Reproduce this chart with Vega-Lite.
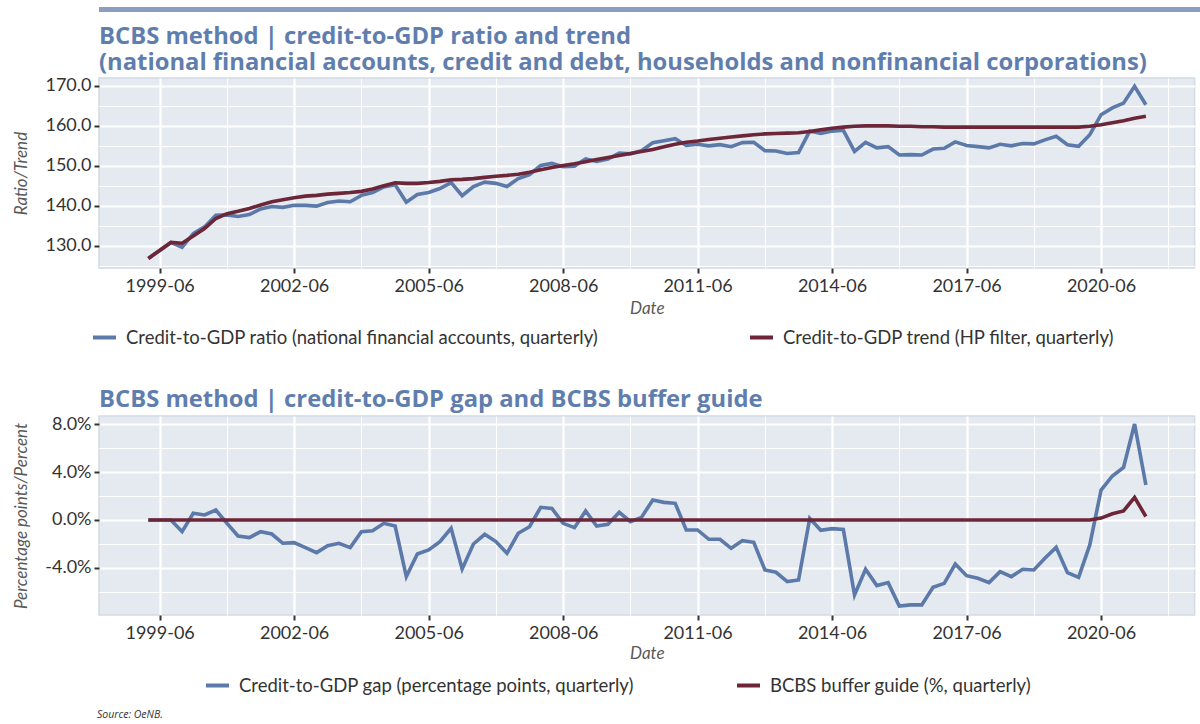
{
  "$schema": "https://vega.github.io/schema/vega-lite/v6.json",
  "background": "white",
  "padding": {"left": 11, "top": 7, "right": 0, "bottom": 0},
  "datasets": {
    "cg": [
      {"date":"1999-03-01","ratio":126.8,"trend":126.8,"gap":0,"guide":0},
      {"date":"1999-06-01","ratio":128.8,"trend":128.8,"gap":0,"guide":0},
      {"date":"1999-09-01","ratio":130.8,"trend":130.8,"gap":0,"guide":0},
      {"date":"1999-12-01","ratio":129.6,"trend":130.6,"gap":-0.97,"guide":0},
      {"date":"2000-03-01","ratio":133.0,"trend":132.4,"gap":0.56,"guide":0},
      {"date":"2000-06-01","ratio":134.7,"trend":134.3,"gap":0.42,"guide":0},
      {"date":"2000-09-01","ratio":137.6,"trend":136.8,"gap":0.83,"guide":0},
      {"date":"2000-12-01","ratio":137.7,"trend":138.0,"gap":-0.28,"guide":0},
      {"date":"2001-03-01","ratio":137.3,"trend":138.6,"gap":-1.33,"guide":0},
      {"date":"2001-06-01","ratio":137.8,"trend":139.3,"gap":-1.47,"guide":0},
      {"date":"2001-09-01","ratio":139.2,"trend":140.2,"gap":-0.97,"guide":0},
      {"date":"2001-12-01","ratio":139.8,"trend":141.0,"gap":-1.17,"guide":0},
      {"date":"2002-03-01","ratio":139.6,"trend":141.5,"gap":-1.94,"guide":0},
      {"date":"2002-06-01","ratio":140.1,"trend":142.0,"gap":-1.89,"guide":0},
      {"date":"2002-09-01","ratio":140.1,"trend":142.4,"gap":-2.3,"guide":0},
      {"date":"2002-12-01","ratio":139.9,"trend":142.6,"gap":-2.72,"guide":0},
      {"date":"2003-03-01","ratio":140.8,"trend":142.9,"gap":-2.14,"guide":0},
      {"date":"2003-06-01","ratio":141.2,"trend":143.1,"gap":-1.94,"guide":0},
      {"date":"2003-09-01","ratio":141.0,"trend":143.3,"gap":-2.3,"guide":0},
      {"date":"2003-12-01","ratio":142.6,"trend":143.6,"gap":-0.97,"guide":0},
      {"date":"2004-03-01","ratio":143.3,"trend":144.2,"gap":-0.89,"guide":0},
      {"date":"2004-06-01","ratio":144.7,"trend":145.0,"gap":-0.28,"guide":0},
      {"date":"2004-09-01","ratio":145.25,"trend":145.75,"gap":-0.5,"guide":0},
      {"date":"2004-12-01","ratio":140.9,"trend":145.6,"gap":-4.72,"guide":0},
      {"date":"2005-03-01","ratio":142.8,"trend":145.6,"gap":-2.83,"guide":0},
      {"date":"2005-06-01","ratio":143.3,"trend":145.8,"gap":-2.5,"guide":0},
      {"date":"2005-09-01","ratio":144.3,"trend":146.1,"gap":-1.8,"guide":0},
      {"date":"2005-12-01","ratio":145.8,"trend":146.5,"gap":-0.69,"guide":0},
      {"date":"2006-03-01","ratio":142.5,"trend":146.6,"gap":-4.08,"guide":0},
      {"date":"2006-06-01","ratio":144.8,"trend":146.8,"gap":-2.0,"guide":0},
      {"date":"2006-09-01","ratio":145.9,"trend":147.1,"gap":-1.19,"guide":0},
      {"date":"2006-12-01","ratio":145.6,"trend":147.4,"gap":-1.8,"guide":0},
      {"date":"2007-03-01","ratio":144.8,"trend":147.6,"gap":-2.78,"guide":0},
      {"date":"2007-06-01","ratio":146.8,"trend":147.9,"gap":-1.11,"guide":0},
      {"date":"2007-09-01","ratio":147.8,"trend":148.4,"gap":-0.56,"guide":0},
      {"date":"2007-12-01","ratio":150.1,"trend":149.0,"gap":1.06,"guide":0},
      {"date":"2008-03-01","ratio":150.6,"trend":149.6,"gap":0.97,"guide":0},
      {"date":"2008-06-01","ratio":149.8,"trend":150.1,"gap":-0.28,"guide":0},
      {"date":"2008-09-01","ratio":149.9,"trend":150.5,"gap":-0.64,"guide":0},
      {"date":"2008-12-01","ratio":151.75,"trend":151.0,"gap":0.75,"guide":0},
      {"date":"2009-03-01","ratio":151.1,"trend":151.6,"gap":-0.5,"guide":0},
      {"date":"2009-06-01","ratio":151.7,"trend":152.1,"gap":-0.36,"guide":0},
      {"date":"2009-09-01","ratio":153.2,"trend":152.6,"gap":0.64,"guide":0},
      {"date":"2009-12-01","ratio":153.0,"trend":153.1,"gap":-0.14,"guide":0},
      {"date":"2010-03-01","ratio":153.8,"trend":153.6,"gap":0.22,"guide":0},
      {"date":"2010-06-01","ratio":155.8,"trend":154.1,"gap":1.67,"guide":0},
      {"date":"2010-09-01","ratio":156.3,"trend":154.8,"gap":1.47,"guide":0},
      {"date":"2010-12-01","ratio":156.8,"trend":155.4,"gap":1.39,"guide":0},
      {"date":"2011-03-01","ratio":155.1,"trend":155.9,"gap":-0.83,"guide":0},
      {"date":"2011-06-01","ratio":155.4,"trend":156.2,"gap":-0.83,"guide":0},
      {"date":"2011-09-01","ratio":155.0,"trend":156.6,"gap":-1.61,"guide":0},
      {"date":"2011-12-01","ratio":155.3,"trend":156.9,"gap":-1.61,"guide":0},
      {"date":"2012-03-01","ratio":154.8,"trend":157.2,"gap":-2.36,"guide":0},
      {"date":"2012-06-01","ratio":155.8,"trend":157.5,"gap":-1.72,"guide":0},
      {"date":"2012-09-01","ratio":155.9,"trend":157.8,"gap":-1.86,"guide":0},
      {"date":"2012-12-01","ratio":153.8,"trend":158.0,"gap":-4.17,"guide":0},
      {"date":"2013-03-01","ratio":153.7,"trend":158.1,"gap":-4.36,"guide":0},
      {"date":"2013-06-01","ratio":153.1,"trend":158.2,"gap":-5.14,"guide":0},
      {"date":"2013-09-01","ratio":153.3,"trend":158.3,"gap":-5.0,"guide":0},
      {"date":"2013-12-01","ratio":158.7,"trend":158.6,"gap":0.14,"guide":0},
      {"date":"2014-03-01","ratio":158.1,"trend":159.0,"gap":-0.86,"guide":0},
      {"date":"2014-06-01","ratio":158.7,"trend":159.4,"gap":-0.72,"guide":0},
      {"date":"2014-09-01","ratio":158.9,"trend":159.7,"gap":-0.78,"guide":0},
      {"date":"2014-12-01","ratio":153.6,"trend":159.9,"gap":-6.25,"guide":0},
      {"date":"2015-03-01","ratio":155.9,"trend":160.0,"gap":-4.11,"guide":0},
      {"date":"2015-06-01","ratio":154.5,"trend":160.0,"gap":-5.47,"guide":0},
      {"date":"2015-09-01","ratio":154.8,"trend":160.0,"gap":-5.22,"guide":0},
      {"date":"2015-12-01","ratio":152.7,"trend":159.9,"gap":-7.17,"guide":0},
      {"date":"2016-03-01","ratio":152.8,"trend":159.9,"gap":-7.08,"guide":0},
      {"date":"2016-06-01","ratio":152.7,"trend":159.8,"gap":-7.08,"guide":0},
      {"date":"2016-09-01","ratio":154.2,"trend":159.8,"gap":-5.61,"guide":0},
      {"date":"2016-12-01","ratio":154.4,"trend":159.7,"gap":-5.28,"guide":0},
      {"date":"2017-03-01","ratio":156.0,"trend":159.7,"gap":-3.67,"guide":0},
      {"date":"2017-06-01","ratio":155.1,"trend":159.7,"gap":-4.64,"guide":0},
      {"date":"2017-09-01","ratio":154.8,"trend":159.7,"gap":-4.86,"guide":0},
      {"date":"2017-12-01","ratio":154.5,"trend":159.7,"gap":-5.22,"guide":0},
      {"date":"2018-03-01","ratio":155.4,"trend":159.7,"gap":-4.31,"guide":0},
      {"date":"2018-06-01","ratio":155.0,"trend":159.7,"gap":-4.72,"guide":0},
      {"date":"2018-09-01","ratio":155.6,"trend":159.7,"gap":-4.11,"guide":0},
      {"date":"2018-12-01","ratio":155.5,"trend":159.7,"gap":-4.17,"guide":0},
      {"date":"2019-03-01","ratio":156.5,"trend":159.7,"gap":-3.19,"guide":0},
      {"date":"2019-06-01","ratio":157.4,"trend":159.7,"gap":-2.28,"guide":0},
      {"date":"2019-09-01","ratio":155.3,"trend":159.7,"gap":-4.39,"guide":0},
      {"date":"2019-12-01","ratio":154.9,"trend":159.7,"gap":-4.78,"guide":0},
      {"date":"2020-03-01","ratio":157.8,"trend":159.9,"gap":-2.08,"guide":0},
      {"date":"2020-06-01","ratio":162.8,"trend":160.3,"gap":2.5,"guide":0.16},
      {"date":"2020-09-01","ratio":164.5,"trend":160.8,"gap":3.67,"guide":0.52},
      {"date":"2020-12-01","ratio":165.7,"trend":161.3,"gap":4.39,"guide":0.75},
      {"date":"2021-03-01","ratio":169.9,"trend":161.9,"gap":8.0,"guide":1.88},
      {"date":"2021-06-01","ratio":165.3,"trend":162.4,"gap":2.92,"guide":0.29}
    ]
  },
  "config": {
    "font": "Lato",
    "view": {"fill": "#e5e9f0", "stroke": "#d3dae5", "strokeWidth": 1.5},
    "title": {"font": "Open Sans", "fontSize": 23.8, "fontWeight": "bold", "color": "#5f7eae", "anchor": "start", "frame": "group",
              "subtitleFont": "Open Sans", "subtitleFontSize": 23.8, "subtitleFontWeight": "bold", "subtitleColor": "#5f7eae", "subtitlePadding": 2},
    "axis": {
      "domain": false,
      "labelFont": "Lato", "labelFontSize": 18, "labelColor": "#333333",
      "titleFont": "Lato", "titleFontSize": 17, "titleFontStyle": "italic", "titleFontWeight": "normal", "titleColor": "#595959",
      "gridColor": "white", "tickColor": "#333333", "tickWidth": 2, "tickSize": 5
    },
    "legend": {
      "orient": "none", "direction": "horizontal", "columns": 2, "title": null,
      "symbolType": "stroke", "symbolStrokeWidth": 4, "symbolSize": 529,
      "labelFont": "Lato", "labelFontSize": 18.5, "labelColor": "#333333", "labelLimit": 0, "labelOffset": 8
    }
  },
  "title": {"text": "Source: OeNB.", "orient": "bottom", "anchor": "start", "frame": "group", "fontSize": 10.5, "fontStyle": "italic", "fontWeight": "normal", "color": "#333333", "dx": -2, "offset": 14},
  "spacing": 12,
  "vconcat": [
    {
      "width": 1189, "height": 5,
      "view": {"fill": "#8a9ec0", "stroke": null},
      "data": {"values": [{"a": 1}]},
      "mark": {"type": "rect", "color": "#8a9ec0"},
      "encoding": {}
    },
    {
      "spacing": 39,
      "resolve": {"scale": {"color": "independent"}, "legend": {"color": "independent"}},
      "vconcat": [
        {
          "width": 1095.6, "height": 190,
          "title": {"text": "BCBS method | credit-to-GDP ratio and trend", "subtitle": "(national financial accounts, credit and debt, households and nonfinancial corporations)", "offset": 2},
          "data": {"name": "cg"},
          "transform": [{"fold": ["ratio", "trend"], "as": ["series", "value"]}],
          "mark": {"type": "line", "strokeWidth": 3.6},
          "encoding": {
            "x": {
              "field": "date", "type": "temporal", "title": "Date",
              "scale": {"type": "utc", "domain": [{"year": 1998, "month": 1, "date": 23, "utc": true}, {"year": 2022, "month": 7, "date": 3, "utc": true}]},
              "axis": {
                "values": [
                  {"year":1999,"month":6,"date":1,"utc":true},{"year":2000,"month":12,"date":1,"utc":true},
                  {"year":2002,"month":6,"date":1,"utc":true},{"year":2003,"month":12,"date":1,"utc":true},
                  {"year":2005,"month":6,"date":1,"utc":true},{"year":2006,"month":12,"date":1,"utc":true},
                  {"year":2008,"month":6,"date":1,"utc":true},{"year":2009,"month":12,"date":1,"utc":true},
                  {"year":2011,"month":6,"date":1,"utc":true},{"year":2012,"month":12,"date":1,"utc":true},
                  {"year":2014,"month":6,"date":1,"utc":true},{"year":2015,"month":12,"date":1,"utc":true},
                  {"year":2017,"month":6,"date":1,"utc":true},{"year":2018,"month":12,"date":1,"utc":true},
                  {"year":2020,"month":6,"date":1,"utc":true},{"year":2021,"month":12,"date":1,"utc":true}
                ],
                "labelExpr": "utcmonth(datum.value) == 5 ? utcFormat(datum.value, '%Y-%m') : ''",
                "gridWidth": {"condition": {"test": "utcmonth(datum.value) == 5", "value": 2.2}, "value": 1.1},
                "tickOpacity": {"condition": {"test": "utcmonth(datum.value) == 5", "value": 1}, "value": 0},
                "labelPadding": 4, "titlePadding": 5
              }
            },
            "y": {
              "field": "value", "type": "quantitative", "title": "Ratio/Trend",
              "scale": {"domain": [124.4, 172.0], "nice": false, "zero": false},
              "axis": {
                "values": [125, 130, 135, 140, 145, 150, 155, 160, 165, 170],
                "labelExpr": "datum.value % 10 == 0 ? format(datum.value, '.1f') : ''",
                "gridWidth": {"condition": {"test": "datum.value % 10 == 0", "value": 2.2}, "value": 1.1},
                "tickOpacity": {"condition": {"test": "datum.value % 10 == 0", "value": 1}, "value": 0},
                "labelPadding": 3, "minExtent": 56, "maxExtent": 56, "titlePadding": 13
              }
            },
            "color": {
              "field": "series", "type": "nominal",
              "scale": {"domain": ["ratio", "trend"], "range": ["#5b7aa9", "#6c2638"]},
              "legend": {
                "legendX": -8, "legendY": 246, "columnPadding": 143,
                "labelExpr": "datum.label == 'ratio' ? 'Credit-to-GDP ratio (national financial accounts, quarterly)' : 'Credit-to-GDP trend (HP filter, quarterly)'"
              }
            }
          }
        },
        {
          "width": 1095.6, "height": 199,
          "title": {"text": "BCBS method | credit-to-GDP gap and BCBS buffer guide", "offset": 3},
          "data": {"name": "cg"},
          "transform": [{"fold": ["gap", "guide"], "as": ["series", "value"]}],
          "mark": {"type": "line", "strokeWidth": 3.6},
          "encoding": {
            "x": {
              "field": "date", "type": "temporal", "title": "Date",
              "scale": {"type": "utc", "domain": [{"year": 1998, "month": 1, "date": 23, "utc": true}, {"year": 2022, "month": 7, "date": 3, "utc": true}]},
              "axis": {
                "values": [
                  {"year":1999,"month":6,"date":1,"utc":true},{"year":2000,"month":12,"date":1,"utc":true},
                  {"year":2002,"month":6,"date":1,"utc":true},{"year":2003,"month":12,"date":1,"utc":true},
                  {"year":2005,"month":6,"date":1,"utc":true},{"year":2006,"month":12,"date":1,"utc":true},
                  {"year":2008,"month":6,"date":1,"utc":true},{"year":2009,"month":12,"date":1,"utc":true},
                  {"year":2011,"month":6,"date":1,"utc":true},{"year":2012,"month":12,"date":1,"utc":true},
                  {"year":2014,"month":6,"date":1,"utc":true},{"year":2015,"month":12,"date":1,"utc":true},
                  {"year":2017,"month":6,"date":1,"utc":true},{"year":2018,"month":12,"date":1,"utc":true},
                  {"year":2020,"month":6,"date":1,"utc":true},{"year":2021,"month":12,"date":1,"utc":true}
                ],
                "labelExpr": "utcmonth(datum.value) == 5 ? utcFormat(datum.value, '%Y-%m') : ''",
                "gridWidth": {"condition": {"test": "utcmonth(datum.value) == 5", "value": 2.2}, "value": 1.1},
                "tickOpacity": {"condition": {"test": "utcmonth(datum.value) == 5", "value": 1}, "value": 0},
                "labelPadding": 4, "titlePadding": 3
              }
            },
            "y": {
              "field": "value", "type": "quantitative", "title": "Percentage points/Percent",
              "scale": {"domain": [-7.92, 8.67], "nice": false, "zero": false},
              "axis": {
                "values": [-6, -4, -2, 0, 2, 4, 6, 8],
                "labelExpr": "datum.value % 4 == 0 ? (datum.value < 0 ? '-' : '') + format(abs(datum.value), '.1f') + '%' : ''",
                "gridWidth": {"condition": {"test": "datum.value % 4 == 0", "value": 2.2}, "value": 1.1},
                "tickOpacity": {"condition": {"test": "datum.value % 4 == 0", "value": 1}, "value": 0},
                "labelPadding": 3, "minExtent": 56, "maxExtent": 56, "titlePadding": 13
              }
            },
            "color": {
              "field": "series", "type": "nominal",
              "scale": {"domain": ["gap", "guide"], "range": ["#5b7aa9", "#6c2638"]},
              "legend": {
                "legendX": 105, "legendY": 256, "columnPadding": 95,
                "labelExpr": "datum.label == 'gap' ? 'Credit-to-GDP gap (percentage points, quarterly)' : 'BCBS buffer guide (%, quarterly)'"
              }
            }
          }
        }
      ]
    }
  ]
}
